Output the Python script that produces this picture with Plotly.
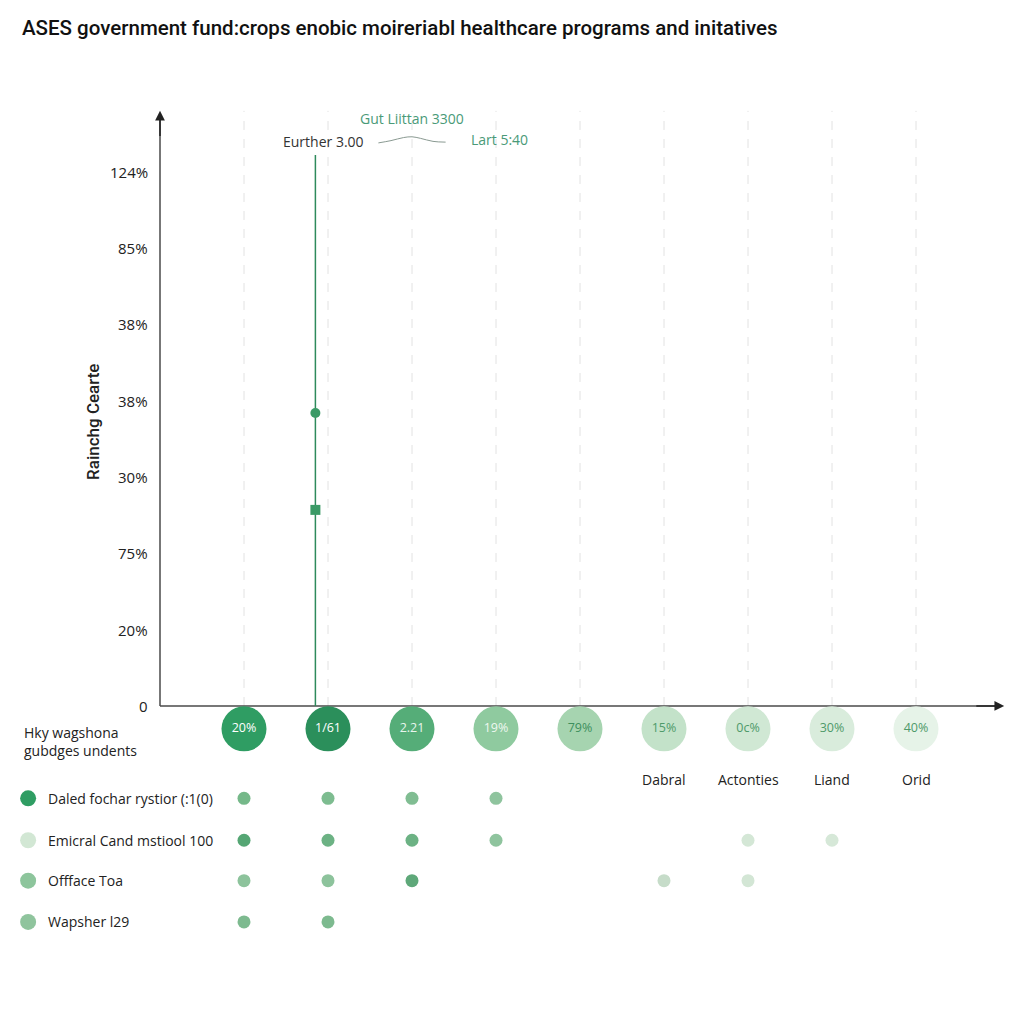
import plotly.graph_objects as go

# ---------------- data ----------------
title_text = "ASES government fund:crops enobic moireriabl healthcare programs and initatives"
y_tick_vals = [0, 1, 2, 3, 4, 5, 6, 7]
y_tick_text = ["0", "20%", "75%", "30%", "38%", "38%", "85%", "124%"]
y_title = "Rainchg Cearte"

columns = [1, 2, 3, 4, 5, 6, 7, 8, 9]
bubble_labels = ["20%", "1/61", "2.21", "19%", "79%", "15%", "0c%", "30%", "40%"]
bubble_colors = ["#2f9d63", "#2b8f5b", "#55ad78", "#8fca9f", "#a6d4b0",
                 "#c3e2c9", "#d0e8d4", "#d9ecdc", "#e6f3e8"]
bubble_text_colors = ["#ffffff", "#ffffff", "#e8f5ec", "#eef8f0", "#3d8f5d",
                      "#4f9a6a", "#4f9a6a", "#4f9a6a", "#4f9a6a"]

category_cols = [6, 7, 8, 9]
category_names = ["Dabral", "Actonties", "Liand", "Orid"]

left_note = "Hky wagshona<br>gubdges undents"

legend_names = ["Daled fochar rystior (:1(0)", "Emicral Cand mstiool 100",
                "Offface Toa", "Wapsher l29"]
legend_colors = ["#2f9d63", "#d2e7d4", "#8dc59c", "#8fc49d"]
legend_rows = [-1.21, -1.76, -2.29, -2.83]

# dot matrix: column indices and colours for each legend row
row_cols = [
    [1, 2, 3, 4],
    [1, 2, 3, 4, 7, 8],
    [1, 2, 3, 6, 7],
    [1, 2],
]
row_colors = [
    ["#75b889", "#7dbc90", "#80bd92", "#8fc49e"],
    ["#55a674", "#6cb284", "#6cb284", "#8fc49e", "#d4e7d6", "#d6e8d8"],
    ["#8dc39c", "#8dc39c", "#5ea879", "#c6dcc9", "#d3e6d5"],
    ["#7dba8f", "#7dba8f"],
]

highlight_x = 1.85
highlight_top = 7.22
highlight_points = [3.84, 2.57]
highlight_symbols = ["circle", "square"]

top_labels = ["Eurther 3.00", "Gut Liittan 3300", "Lart 5:40"]
top_label_x = [1.95, 3.0, 4.04]
top_label_y = [7.40, 7.70, 7.43]
top_label_colors = ["#333333", "#4a9a78", "#4a9a78"]
wave_x = [2.6, 2.75, 2.9, 3.0, 3.1, 3.25, 3.4]
wave_y = [7.38, 7.41, 7.45, 7.46, 7.44, 7.40, 7.39]

y_axis_top = 7.75
x_axis_end = 10.0
grid_top = 7.8

# ---------------- figure ----------------
fig = go.Figure()

# dashed grid columns
for c in columns:
    fig.add_trace(go.Scatter(x=[c, c], y=[0, grid_top], mode="lines",
                             line=dict(color="#e2e2e2", width=1, dash="dash"),
                             showlegend=False, hoverinfo="skip"))

# axes lines
fig.add_trace(go.Scatter(x=[0, 0], y=[0, y_axis_top], mode="lines",
                         line=dict(color="#4a4a4a", width=1.5), showlegend=False, hoverinfo="skip"))
fig.add_trace(go.Scatter(x=[0, x_axis_end], y=[0, 0], mode="lines",
                         line=dict(color="#4a4a4a", width=1.5), showlegend=False, hoverinfo="skip"))

# highlight vertical line
fig.add_trace(go.Scatter(x=[highlight_x, highlight_x], y=[0, highlight_top], mode="lines",
                         line=dict(color="#2e8a5c", width=1.5), showlegend=False,
                         hoverinfo="skip"))
fig.add_trace(go.Scatter(x=[highlight_x] * len(highlight_points), y=highlight_points,
                         mode="markers", marker=dict(color="#3a9a66", size=10,
                                                     symbol=highlight_symbols),
                         showlegend=False))

# wave line near top
fig.add_trace(go.Scatter(x=wave_x, y=wave_y, mode="lines", line=dict(color="#8a9a92", width=1,
                         shape="spline"), showlegend=False))

# bubbles under the axis
fig.add_trace(go.Scatter(x=columns, y=[-0.30] * len(columns), mode="markers+text",
                         marker=dict(color=bubble_colors, size=45, line=dict(width=0)),
                         text=bubble_labels, textposition="middle center",
                         textfont=dict(color=bubble_text_colors, size=12.5, family="Open Sans"),
                         showlegend=False))

# legend markers
fig.add_trace(go.Scatter(x=[-1.57] * 4, y=legend_rows, mode="markers",
                         marker=dict(color=legend_colors, size=16),
                         showlegend=False))

# dot matrix
for r, cols in enumerate(row_cols):
    fig.add_trace(go.Scatter(x=cols, y=[legend_rows[r]] * len(cols), mode="markers",
                             marker=dict(color=row_colors[r], size=13),
                             showlegend=False))

annotations = []
for v, t in zip(y_tick_vals, y_tick_text):
    annotations.append(dict(x=-0.12, y=v, text=t, showarrow=False, xanchor="right",
                            yanchor="middle",
                            font=dict(size=15, color="#222222", family="Open Sans")))
for i, name in enumerate(legend_names):
    annotations.append(dict(x=-1.36, y=legend_rows[i], text=name, showarrow=False,
                            xanchor="left", yanchor="middle",
                            font=dict(size=14, color="#222222", family="Open Sans")))
for c, name in zip(category_cols, category_names):
    annotations.append(dict(x=c, y=-0.96, text=name, showarrow=False,
                            font=dict(size=14, color="#222222", family="Open Sans")))
annotations.append(dict(x=-1.64, y=-0.47, text=left_note, showarrow=False, xanchor="left",
                        align="left", yanchor="middle",
                        font=dict(size=14, color="#222222", family="Open Sans")))
for t, x, y, c in zip(top_labels, top_label_x, top_label_y, top_label_colors):
    annotations.append(dict(x=x, y=y, text=t, showarrow=False,
                            font=dict(size=14, color=c, family="Open Sans")))
annotations.append(dict(x=-0.80, y=3.72, text=y_title, showarrow=False, textangle=-90,
                        font=dict(size=17, color="#222222", family="Roboto", weight=500)))
# axis arrows
annotations.append(dict(x=0, y=y_axis_top + 0.05, ax=0, ay=y_axis_top - 0.3, xref="x", yref="y",
                        axref="x", ayref="y", text="", showarrow=True, arrowhead=2,
                        arrowsize=1.3, arrowwidth=1.5, arrowcolor="#222222"))
annotations.append(dict(x=x_axis_end + 0.05, y=0, ax=x_axis_end - 0.3, ay=0, xref="x", yref="y",
                        axref="x", ayref="y", text="", showarrow=True, arrowhead=2,
                        arrowsize=1.3, arrowwidth=1.5, arrowcolor="#222222"))

fig.update_layout(
    width=1024, height=1024,
    margin=dict(l=0, r=0, t=0, b=0),
    paper_bgcolor="white", plot_bgcolor="white",
    title=dict(text=title_text, x=14 / 1024, xanchor="left", xref="container",
               y=1 - 20 / 1024, yanchor="middle", yref="container",
               font=dict(size=20.5, color="#111111", family="Roboto", weight=500)),
    annotations=annotations,
    showlegend=False,
)
fig.update_xaxes(range=[-1.8095, 10.381], visible=False, fixedrange=True)
fig.update_yaxes(range=[-4.273, 9.148], visible=False, fixedrange=True)

fig.write_html("out.html")
